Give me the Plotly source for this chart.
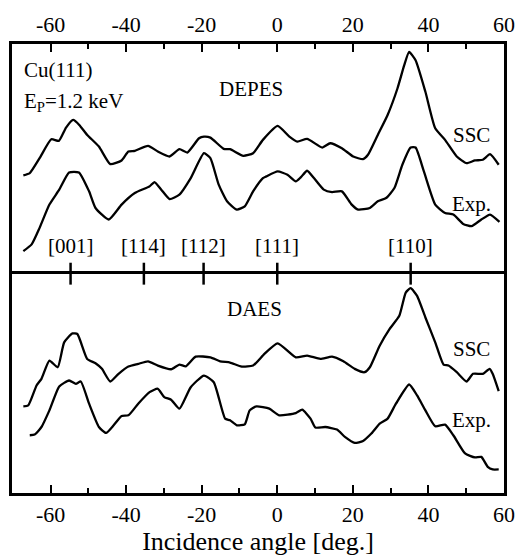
import plotly.graph_objects as go

# ---------------- data (arbitrary intensity units, offset curves) ----------------
depes_ssc_angle = [-67.2, -65.5, -62.9, -59.8, -57.8, -55.9, -54.0, -52.4, -50.3, -47.2, -44.2, -41.2,
                   -39.4, -37.7, -34.2, -31.6, -28.5, -25.9, -23.8, -20.7, -19.4, -17.7, -14.2, -12.5,
                   -9.0, -6.4, -3.8, 0.1, 3.2, 5.3, 7.9, 11.9, 14.0, 17.1, 20.1, 22.7, 24.0, 26.6, 29.2,
                   31.8, 33.6, 34.9, 36.6, 39.2, 41.8, 44.4, 47.5, 50.1, 52.3, 54.4, 56.3, 58.6]
depes_ssc_int = [98.7, 101.0, 116.0, 135.0, 133.4, 146.7, 154.4, 149.4, 139.4, 127.7, 110.0, 113.7,
                 122.7, 123.4, 128.4, 122.7, 117.7, 125.0, 121.7, 136.0, 137.7, 136.7, 125.4, 125.0,
                 118.4, 121.0, 134.4, 148.4, 137.7, 132.7, 135.4, 126.7, 131.0, 126.0, 117.7, 115.0,
                 119.4, 139.4, 159.4, 186.0, 209.4, 222.7, 214.4, 182.7, 146.0, 134.4, 117.7, 111.0,
                 113.7, 114.4, 120.0, 109.4]

depes_exp_angle = [-67.2, -65.0, -62.9, -60.3, -57.7, -55.1, -52.5, -49.8, -48.1, -44.6, -41.2, -37.7,
                   -33.8, -32.5, -30.7, -28.5, -25.9, -22.9, -19.4, -17.7, -15.5, -13.3, -10.7, -8.6,
                   -6.4, -3.8, -2.9, 0.1, 2.7, 4.9, 6.2, 7.9, 9.7, 12.3, 14.5, 17.1, 19.7, 21.4, 24.5,
                   26.6, 28.8, 31.0, 33.1, 35.3, 36.6, 38.8, 41.8, 44.4, 46.6, 49.2, 51.4, 54.0, 56.3, 58.8]
depes_exp_int = [22.7, 29.4, 46.0, 69.4, 84.4, 101.7, 101.7, 82.7, 66.0, 54.4, 69.4, 81.0,
                 87.7, 92.0, 84.4, 75.0, 79.4, 96.0, 121.0, 116.0, 89.4, 72.7, 64.4, 67.7,
                 82.7, 96.0, 97.7, 102.7, 99.4, 92.7, 96.7, 103.4, 96.0, 84.4, 82.0, 82.7, 69.4,
                 64.4, 66.0, 72.7, 76.0, 86.0, 109.4, 126.7, 126.7, 102.7, 69.4, 61.0, 59.4, 50.0,
                 47.7, 54.4, 59.4, 52.0]

daes_ssc_angle = [-67.2, -65.9, -63.7, -62.4, -60.3, -58.1, -56.4, -54.2, -52.9, -50.3, -48.1, -46.4,
                  -44.2, -42.0, -39.4, -36.8, -34.2, -31.6, -28.1, -25.9, -24.2, -21.6, -17.7, -15.1,
                  -12.5, -9.4, -6.4, -3.4, 0.1, 4.9, 7.9, 11.4, 14.5, 17.5, 20.5, 23.1, 24.5, 27.1,
                  29.7, 32.3, 34.0, 35.3, 37.0, 39.2, 41.8, 44.0, 45.3, 47.5, 50.1, 51.8, 54.4, 56.2,
                  57.0, 58.6]
daes_ssc_int = [87.0, 88.0, 108.0, 114.7, 133.0, 126.3, 151.3, 160.3, 159.7, 134.7, 130.3, 124.7,
                112.0, 119.7, 127.0, 129.7, 132.3, 128.0, 124.3, 129.0, 127.3, 137.0, 136.3, 132.3,
                131.0, 127.0, 128.0, 139.7, 150.3, 136.3, 138.0, 134.7, 137.0, 132.3, 124.7, 121.3,
                126.3, 148.0, 164.7, 178.0, 201.3, 205.7, 198.0, 176.3, 151.3, 129.0, 128.0, 121.3,
                112.0, 119.7, 119.7, 124.7, 119.7, 102.3]

daes_exp_angle = [-65.5, -64.2, -62.4, -60.3, -57.7, -55.1, -53.3, -52.0, -49.8, -47.2, -45.3, -43.3,
                  -41.2, -39.4, -36.8, -33.8, -31.6, -29.9, -28.1, -25.9, -22.9, -19.4, -16.8, -13.8,
                  -12.5, -10.7, -8.6, -7.3, -5.5, -2.1, 0.5, 4.9, 6.6, 8.8, 10.1, 12.7, 15.8, 17.9,
                  20.5, 22.7, 24.9, 27.1, 29.2, 31.4, 34.9, 37.0, 39.2, 41.8, 44.4, 46.6, 49.7, 52.3,
                  54.0, 55.7, 57.0, 58.6]
daes_exp_int = [58.0, 58.7, 66.3, 83.0, 107.0, 113.0, 109.7, 112.0, 89.7, 66.3, 60.3, 68.0,
                77.3, 78.0, 89.7, 101.3, 104.7, 96.3, 93.7, 84.7, 106.3, 118.0, 111.3, 74.7,
                73.0, 68.0, 69.0, 83.0, 87.0, 84.7, 78.0, 80.3, 83.7, 74.7, 65.7, 66.3, 63.7, 56.3,
                50.3, 52.3, 59.7, 69.7, 74.7, 89.7, 109.0, 98.0, 83.0, 67.0, 68.7, 58.0, 39.7, 35.7,
                36.3, 26.3, 23.7, 23.7]

directions = ["[001]", "[114]", "[112]", "[111]", "[110]"]
direction_angles = [-54.7, -35.3, -19.5, 0.0, 35.3]

x_ticks = [-60, -40, -20, 0, 20, 40, 60]
x_tick_labels = ["-60", "-40", "-20", "0", "20", "40", "60"]

# ---------------- layout constants ----------------
W, H = 527, 559
ML, MR, MT, MB = 12, 15, 42, 66
top_range = [0, 230.7]
bot_range = [0, 220.3]
split = bot_range[1] / (bot_range[1] + top_range[1])
FONT = "'Liberation Serif', 'Times New Roman', Times, serif"
lw = 2.3

fig = go.Figure()
line = dict(color="black", width=lw, shape="spline", smoothing=0.5)
fig.add_trace(go.Scatter(x=depes_ssc_angle, y=depes_ssc_int, mode="lines", line=line, xaxis="x2", yaxis="y2"))
fig.add_trace(go.Scatter(x=depes_exp_angle, y=depes_exp_int, mode="lines", line=line, xaxis="x2", yaxis="y2"))
fig.add_trace(go.Scatter(x=daes_ssc_angle, y=daes_ssc_int, mode="lines", line=line, xaxis="x", yaxis="y"))
fig.add_trace(go.Scatter(x=daes_exp_angle, y=daes_exp_int, mode="lines", line=line, xaxis="x", yaxis="y"))

xcommon = dict(range=[-70.2, 60], tickvals=x_ticks, ticktext=x_tick_labels, ticks="inside", ticklen=8,
               tickwidth=2, tickcolor="black", showline=True, linewidth=2.5, linecolor="black",
               showgrid=False, zeroline=False,
               minor=dict(dtick=10, tick0=0, ticks="inside", ticklen=5, tickwidth=2, tickcolor="black"),
               tickfont=dict(family=FONT, size=22, color="black"))

fig.update_layout(
    width=W, height=H, margin=dict(l=ML, r=MR, t=MT, b=MB),
    paper_bgcolor="white", plot_bgcolor="white", showlegend=False,
    font=dict(family=FONT, color="black"),
    xaxis=dict(**xcommon, anchor="y", side="bottom", mirror=True,
               title=dict(text="Incidence angle [deg.]", font=dict(family=FONT, size=26, color="black"), standoff=2)),
    xaxis2=dict(**xcommon, anchor="y2", side="top", matches="x", mirror=False),
    yaxis=dict(domain=[0, split], range=bot_range, showticklabels=False, ticks="", showgrid=False,
               zeroline=False, showline=True, linewidth=2.5, linecolor="black", mirror=True),
    yaxis2=dict(domain=[split, 1], range=top_range, showticklabels=False, ticks="", showgrid=False,
                zeroline=False, showline=True, linewidth=2.5, linecolor="black", mirror=True),
)

# direction ticks across the separating line
for a in direction_angles:
    fig.add_shape(type="line", xref="x", yref="paper", x0=a, x1=a,
                  y0=split - 11 / (H - MT - MB), y1=split + 11 / (H - MT - MB),
                  line=dict(color="black", width=2.5))

tf = dict(family=FONT, size=21, color="black")
for name, a in zip(directions, direction_angles):
    fig.add_annotation(x=a, y=27.7, xref="x2", yref="y2", text=name, showarrow=False, font=tf)

def ann(text, x, y, xref, yref, xanchor="center"):
    fig.add_annotation(x=x, y=y, xref=xref, yref=yref, text=text, showarrow=False,
                       font=tf, xanchor=xanchor, yanchor="middle")

ann("Cu(111)", -67.5, 204.7, "x2", "y2", "left")
ann("E<sub>P</sub>=1.2 keV", -67.5, 172.7, "x2", "y2", "left")
ann("DEPES", -7, 185.7, "x2", "y2")
ann("SSC", 51.5, 139.7, "x2", "y2")
ann("Exp.", 51.5, 69.7, "x2", "y2")
ann("DAES", -6, 185, "x", "y")
ann("SSC", 51.5, 145, "x", "y")
ann("Exp.", 51.5, 73, "x", "y")

fig.write_html("out.html")
